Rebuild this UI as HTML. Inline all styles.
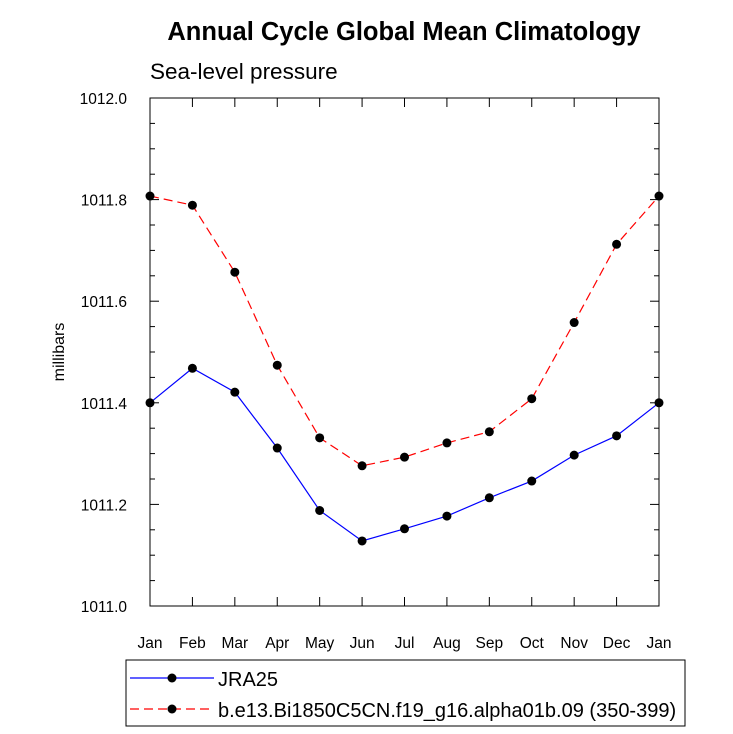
<!DOCTYPE html>
<html><head><meta charset="utf-8"><style>
html,body{margin:0;padding:0;background:#fff;}
svg{display:block;font-family:"Liberation Sans",Arial,sans-serif;}
</style></head><body>
<svg id="chart" width="733" height="734">
<text x="404" y="40" text-anchor="middle" font-size="25.5" font-weight="bold">Annual Cycle Global Mean Climatology</text>
<text x="150" y="79" font-size="22.5">Sea-level pressure</text>
<text transform="translate(64,352) rotate(-90)" text-anchor="middle" font-size="16">millibars</text>
<g id="axes"></g>
<g id="series"></g>
<rect x="126" y="660" width="559" height="66" fill="none" stroke="#000" stroke-width="1"/>
<g>
<line x1="130" y1="678" x2="214" y2="678" stroke="#0000ff" stroke-width="1.2"/>
<circle cx="172" cy="678" r="4.5" fill="#000"/>
<text x="218" y="686" font-size="20">JRA25</text>
</g>
<g>
<line x1="130" y1="709" x2="214" y2="709" stroke="#ff0000" stroke-width="1.2" stroke-dasharray="9,5"/>
<circle cx="172" cy="709" r="4.5" fill="#000"/>
<text x="218" y="717" font-size="20">b.e13.Bi1850C5CN.f19_g16.alpha01b.09 (350-399)</text>
</g>
</svg>
<script>
const months = ["Jan","Feb","Mar","Apr","May","Jun","Jul","Aug","Sep","Oct","Nov","Dec","Jan"];
const jra25 = [1011.400,1011.468,1011.421,1011.311,1011.188,1011.128,1011.152,1011.177,1011.213,1011.246,1011.297,1011.335,1011.400];
const model = [1011.807,1011.789,1011.657,1011.474,1011.331,1011.276,1011.293,1011.321,1011.343,1011.408,1011.558,1011.712,1011.807];
const yTicks = [1011.0,1011.2,1011.4,1011.6,1011.8,1012.0];
const yTickLabels = ["1011.0","1011.2","1011.4","1011.6","1011.8","1012.0"];
const X0=150,X1=659,Y0=606,Y1=98,YMIN=1011.0,YMAX=1012.0;
const NS="http://www.w3.org/2000/svg";
function xs(i){return X0+(X1-X0)*i/(months.length-1);}
function ys(v){return Y0-(v-YMIN)/(YMAX-YMIN)*(Y0-Y1);}
function mk(tag,attrs,parent){const e=document.createElementNS(NS,tag);for(const k in attrs)e.setAttribute(k,attrs[k]);parent.appendChild(e);return e;}
const axes=document.getElementById('axes');
const frame=mk('rect',{x:X0,y:Y1,width:X1-X0,height:Y0-Y1,fill:'none',stroke:'#000','stroke-width':1},axes);


for(let v=YMIN;v<=YMAX+1e-9;v+=0.05){
  const y=ys(v);const major=Math.abs(Math.round(v*5)-v*5)<1e-6;const L=major?9:5;
  mk('line',{x1:X0,y1:y,x2:X0+L,y2:y,stroke:'#000'},axes);
  mk('line',{x1:X1,y1:y,x2:X1-L,y2:y,stroke:'#000'},axes);
}
yTicks.forEach((v,i)=>{
  const t=mk('text',{x:X0-23,y:ys(v)+6,'text-anchor':'end','font-size':15.5},axes);
  t.textContent=yTickLabels[i];
  
  
});
months.forEach((m,i)=>{
  const x=xs(i);
  mk('line',{x1:x,y1:Y0,x2:x,y2:Y0-9,stroke:'#000'},axes);
  mk('line',{x1:x,y1:Y1,x2:x,y2:Y1+9,stroke:'#000'},axes);
  const t=mk('text',{x:x,y:Y0+42,'text-anchor':'middle','font-size':15.5},axes);
  t.textContent=m;
  
  
});
const ser=document.getElementById('series');
function draw(vals,color,dash,name){
  const g=mk('g',{},ser);
  
  
  const p=mk('polyline',{points:vals.map((v,i)=>xs(i)+','+ys(v)).join(' '),fill:'none',stroke:color,'stroke-width':1.2},g);
  if(dash)p.setAttribute('stroke-dasharray',dash);
  vals.forEach((v,i)=>{
    const c=mk('circle',{cx:xs(i),cy:ys(v),r:4.5,fill:'#000'},g);
    
    
  });
}
draw(jra25,'#0000ff',null,'series-jra25');
draw(model,'#ff0000','9,5','series-model');
</script>
</body></html>
